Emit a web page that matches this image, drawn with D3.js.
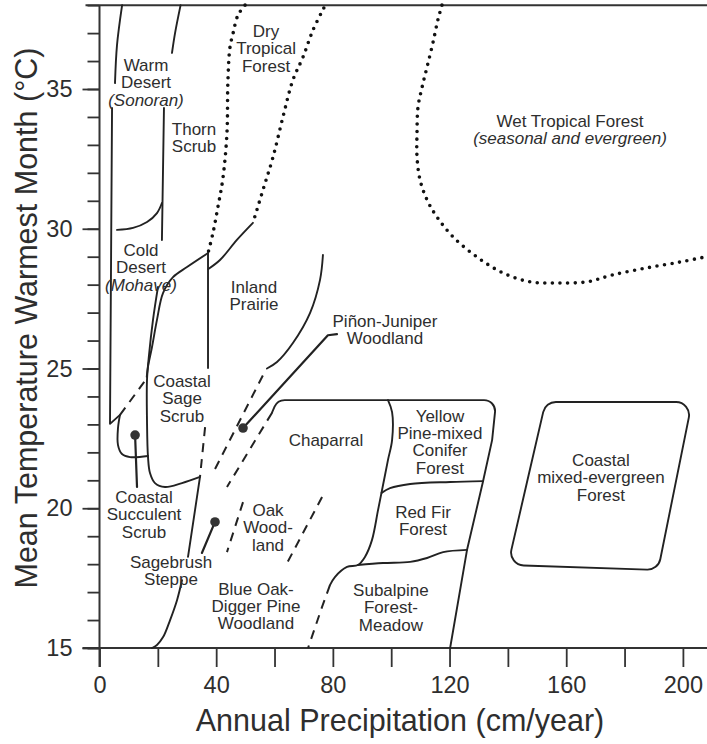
<!DOCTYPE html>
<html>
<head>
<meta charset="utf-8">
<script src="https://cdn.jsdelivr.net/npm/d3@7"></script>
<style>
  html, body { margin: 0; padding: 0; background: #fff; }
  svg { display: block; }
  text { font-family: "Liberation Sans", Arial, Helvetica, sans-serif; fill: #2e2e2e; }
</style>
</head>
<body>
<svg id="chart" width="707" height="744"></svg>
<script>
// ---- axis ticks ----
const precipTicks = d3.range(0, 201, 20);
const precipLabels = [0, 40, 80, 120, 160, 200];
const tempTicks = d3.range(15, 39, 1);
const tempLabels = [15, 20, 25, 30, 35];

// ---- vegetation boundaries: [annual precipitation (cm), warmest-month temperature (°C)] ----
// solid boundaries
const warmDesertWestTop = [[7.75, 38.0], [6.0, 36.57], [5.31, 35.21]];
const desertWest = [[4.3, 34.32], [3.6, 23.02], [7.03, 23.34]];
const warmDesertEastTop = [[27.8, 38.0], [25.9, 37.0], [24.85, 36.29]];
const thornScrubWest = [[22.1, 34.32], [21.4, 29.6]];
const warmColdDivide = [[6.0, 29.96], [11.5, 30.03], [16.3, 30.24], [19.7, 30.56], [21.4, 30.92]];
const coldDesertEast = [[37.2, 29.13], [30.0, 28.63], [25.2, 28.27], [21.77, 27.7], [19.7, 26.74], [18.0, 25.77], [16.6, 25.05], [16.2, 24.7]];
const sageScrubWest = [[20.05, 27.92], [18.34, 26.74], [16.97, 25.48], [16.28, 24.59], [16.28, 23.16], [16.63, 21.83], [17.31, 21.26], [19.03, 20.9], [22.45, 20.76], [28.28, 20.9], [34.45, 21.12]];
const succulentPocket = [[7.03, 23.34], [6.34, 22.87], [6.34, 22.26], [7.71, 21.94], [10.46, 21.83], [16.63, 21.87]];
const steppeUpper = [[34.45, 21.12], [30.34, 18.26]];
const steppeLower = [[28.3, 17.43], [26.6, 16.72], [24.2, 16.0], [21.8, 15.39], [19.7, 15.11], [18.0, 15.0]];
const prairieWest = [[37.2, 29.13], [37.2, 25.02]];
const prairieNorth = [[52.6, 30.21], [47.1, 29.6], [41.3, 28.88], [37.2, 28.55]];
const prairieEast = [[76.6, 29.06], [75.6, 28.17], [72.2, 26.99], [66.3, 25.91], [60.85, 25.23], [57.4, 25.0]];
const chaparralRim = [[59.1, 23.41], [61.0, 23.87], [135.8, 23.87], [135.6, 23.45], [134.6, 22.44], [131.5, 20.97], [126.0, 18.51], [120.2, 15.0]];
const pineDivide = [[98.9, 23.87], [100.3, 23.44], [100.3, 22.44], [98.9, 21.73], [97.2, 20.83], [95.5, 19.94], [93.4, 18.86], [91.0, 18.26], [88.6, 17.97], [84.85, 17.9], [80.7, 17.54], [79.0, 17.25]];
const redFirTop = [[96.7, 20.55], [99.6, 20.72], [106.5, 20.87], [120.2, 20.94], [131.5, 20.97]];
const subalpineTop = [[88.6, 17.97], [97.2, 18.04], [106.5, 18.08], [112.3, 18.22], [117.8, 18.43], [126.0, 18.51]];
const coastalForestBox = [[152.9, 23.8], [203.1, 23.8], [191.5, 17.79], [140.0, 17.97]];

// dashed (uncertain) boundaries
const sageScrubNorthDash = [[7.03, 23.34], [16.0, 24.62]];
const sageScrubEastDash = [[36.2, 22.9], [34.45, 21.12]];
const prairieEastDash = [[56.0, 24.75], [38.9, 21.26]];
const chaparralWestDash = [[59.1, 23.41], [43.7, 20.76]];
const oakWestDash = [[49.2, 20.22], [43.7, 18.43]];
const oakEastDash = [[76.3, 20.4], [64.3, 18.04]];
const subalpineWestDash = [[79.0, 17.25], [76.3, 16.47], [71.5, 15.0]];

// dotted tropical boundaries
const dryTropicalWest = [[49.9, 38.0], [47.5, 37.65], [45.8, 37.0], [44.7, 36.47], [44.0, 35.2], [43.7, 33.43], [42.3, 31.8], [40.6, 30.78], [38.9, 29.85], [37.2, 29.13]];
const dryTropicalEast = [[76.9, 37.9], [73.2, 37.11], [69.8, 36.15], [66.3, 35.32], [62.9, 34.0], [59.5, 32.57], [56.05, 31.39], [52.6, 30.21]];
const wetTropicalEdge = [[117.4, 38.0], [116.0, 37.47], [114.3, 36.65], [112.3, 35.79], [110.6, 35.07], [109.2, 34.36], [108.85, 33.43], [108.85, 32.57], [109.9, 31.74], [112.3, 31.03], [115.7, 30.42], [121.2, 29.71], [129.4, 28.99], [138.3, 28.42], [147.6, 28.1], [156.8, 28.06], [167.1, 28.1], [176.0, 28.35], [187.7, 28.6], [199.0, 28.81], [207.6, 28.99]];

// point stands with leader lines
const pinonStand = [[49.2, 22.87], [78.3, 26.19], [81.4, 26.23]];
const sagebrushStand = [[39.6, 19.51], [35.1, 18.4]];
const succulentStand = [[12.2, 22.62], [12.86, 20.76]];

// vegetation type names and where each name block sits (centre, first baseline)
const biomeNames = [
  ["Warm", "Desert", "(Sonoran)"],
  ["Thorn", "Scrub"],
  ["Cold", "Desert", "(Mohave)"],
  ["Dry", "Tropical", "Forest"],
  ["Wet Tropical Forest", "(seasonal and evergreen)"],
  ["Inland", "Prairie"],
  ["Piñon-Juniper", "Woodland"],
  ["Coastal", "Sage", "Scrub"],
  ["Chaparral"],
  ["Yellow", "Pine-mixed", "Conifer", "Forest"],
  ["Red Fir", "Forest"],
  ["Subalpine", "Forest-", "Meadow"],
  ["Coastal", "mixed-evergreen", "Forest"],
  ["Coastal", "Succulent", "Scrub"],
  ["Sagebrush", "Steppe"],
  ["Oak", "Wood-", "land"],
  ["Blue Oak-", "Digger Pine", "Woodland"]
];
const biomeAnchors = [
  [15.94, 35.64], [32.4, 33.35], [14.23, 29.02], [57.1, 36.86], [161.3, 33.64],
  [52.97, 27.7], [97.87, 26.48], [28.28, 24.34], [77.65, 22.23], [116.7, 23.09],
  [110.9, 19.65], [99.9, 16.86], [171.9, 21.51], [15.26, 20.19], [24.51, 17.86],
  [57.77, 19.72], [53.65, 16.9]
];

// ---- scales ----
const svg = d3.select("#chart");
const x = d3.scaleLinear().domain([0, 200]).range([99.5, 682.9]);
const y = d3.scaleLinear().domain([15, 35]).range([648, 89]);
const tempTop = 38;

const smooth = d3.line().x(d => x(d[0])).y(d => y(d[1])).curve(d3.curveCatmullRom.alpha(0.5));
const straight = d3.line().x(d => x(d[0])).y(d => y(d[1]));

// polyline with rounded corners, built from scaled vertices
function rounded(points, r, closed) {
  const p = points.map(d => [x(d[0]), y(d[1])]);
  const path = d3.path();
  if (closed) {
    const n = p.length;
    const m0 = [(p[n - 1][0] + p[0][0]) / 2, (p[n - 1][1] + p[0][1]) / 2];
    path.moveTo(m0[0], m0[1]);
    for (let i = 0; i < n; i++) {
      const a = p[i], b = p[(i + 1) % n];
      path.arcTo(a[0], a[1], b[0], b[1], r);
    }
    path.closePath();
  } else {
    path.moveTo(p[0][0], p[0][1]);
    for (let i = 1; i < p.length - 1; i++) path.arcTo(p[i][0], p[i][1], p[i + 1][0], p[i + 1][1], r);
    path.lineTo(p[p.length - 1][0], p[p.length - 1][1]);
  }
  return path.toString();
}

// ---- axes ----
const axisColor = "#333";
const yMinor = svg.append("g").attr("transform", `translate(${x(0)},0)`)
  .call(d3.axisLeft(y).tickValues(tempTicks).tickSize(12).tickFormat(""));
const yMajor = svg.append("g").attr("transform", `translate(${x(0)},0)`)
  .call(d3.axisLeft(y).tickValues(tempLabels).tickSize(17).tickPadding(10));
const xAxis = svg.append("g").attr("transform", `translate(0,${y(15)})`)
  .call(d3.axisBottom(x).tickValues(precipTicks).tickSize(19).tickPadding(9)
    .tickFormat(d => precipLabels.includes(d) ? d : ""));
[yMinor, yMajor, xAxis].forEach(g => {
  g.select(".domain").remove();
  g.selectAll("line").attr("stroke", axisColor).attr("stroke-width", 1.8);
  g.selectAll("text").style("font-size", "23.5px").attr("fill", "#333");
});

const frame = svg.append("g").attr("stroke", axisColor).attr("stroke-width", 2).attr("fill", "none");
frame.append("line").attr("x1", x(0)).attr("x2", x(0)).attr("y1", y(tempTop)).attr("y2", y(15) + 19);
frame.append("line").attr("x1", x(0) - 17).attr("x2", 707).attr("y1", y(15)).attr("y2", y(15));
frame.append("line").attr("x1", x(0) - 14).attr("x2", 707).attr("y1", y(tempTop)).attr("y2", y(tempTop));

svg.append("text").attr("x", 400).attr("y", 731).attr("text-anchor", "middle")
  .style("font-size", "30.5px").text("Annual Precipitation (cm/year)");
svg.append("text").attr("transform", "translate(37,318) rotate(-90)").attr("text-anchor", "middle")
  .style("font-size", "30.5px").text("Mean Temperature Warmest Month (°C)");

// ---- boundaries ----
const ink = "#222";
const bounds = svg.append("g").attr("fill", "none").attr("stroke", ink)
  .attr("stroke-linejoin", "round").attr("stroke-linecap", "round");

const solidSmooth = [warmDesertWestTop, warmDesertEastTop, warmColdDivide, coldDesertEast,
  sageScrubWest, succulentPocket, steppeLower, prairieNorth, prairieEast, pineDivide, redFirTop, subalpineTop];
const solidStraight = [desertWest, thornScrubWest, steppeUpper, prairieWest];
solidSmooth.forEach(d => bounds.append("path").attr("d", smooth(d)).attr("stroke-width", 1.9));
solidStraight.forEach(d => bounds.append("path").attr("d", straight(d)).attr("stroke-width", 1.9));
bounds.append("path").attr("d", rounded(chaparralRim, 11, false)).attr("stroke-width", 1.9);
bounds.append("path").attr("d", rounded(coastalForestBox, 13, true)).attr("stroke-width", 1.9);

const dashed = [sageScrubNorthDash, sageScrubEastDash, prairieEastDash, chaparralWestDash,
  oakWestDash, oakEastDash, subalpineWestDash];
dashed.forEach(d => bounds.append("path").attr("d", straight(d))
  .attr("stroke-width", 2).attr("stroke-dasharray", "9 7").attr("stroke-linecap", "butt"));

const dotted = [dryTropicalWest, dryTropicalEast, wetTropicalEdge];
dotted.forEach(d => bounds.append("path").attr("d", smooth(d))
  .attr("stroke", "#111").attr("stroke-width", 3.6).attr("stroke-dasharray", "0 7.6").attr("stroke-linecap", "round"));

// ---- point stands ----
[pinonStand, sagebrushStand, succulentStand].forEach(d => {
  bounds.append("path").attr("d", straight(d)).attr("stroke-width", 2.2);
  svg.append("circle").attr("cx", x(d[0][0])).attr("cy", y(d[0][1])).attr("r", 4.8).attr("fill", "#333");
});

// ---- names ----
const lineStep = 17.3;
const names = svg.append("g").attr("text-anchor", "middle").style("font-size", "17px");
biomeNames.forEach((lines, i) => {
  const [px, pt] = biomeAnchors[i];
  const t = names.append("text").attr("x", x(px)).attr("y", y(pt));
  lines.forEach((s, j) => {
    t.append("tspan").attr("x", x(px)).attr("dy", j === 0 ? 0 : lineStep)
      .style("font-style", s.startsWith("(") ? "italic" : "normal").text(s);
  });
});
</script>
</body>
</html>
